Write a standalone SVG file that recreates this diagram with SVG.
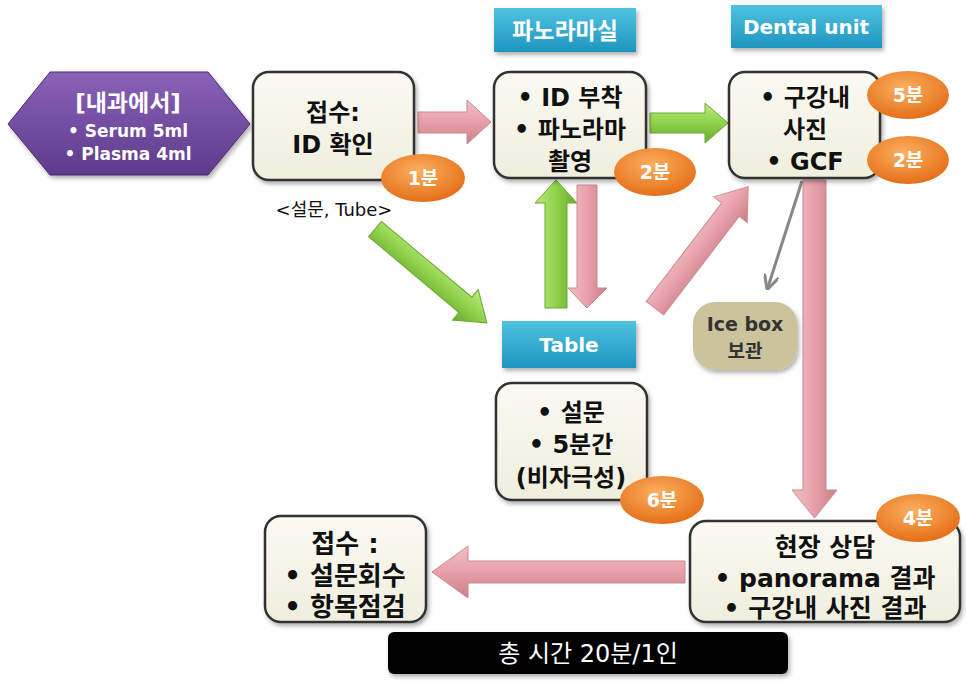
<svg xmlns="http://www.w3.org/2000/svg" width="966" height="683" viewBox="0 0 966 683">
<defs>
<linearGradient id="gBox" x1="0" y1="0" x2="0" y2="1"><stop offset="0" stop-color="#fbfaf2"/><stop offset="1" stop-color="#f0eedd"/></linearGradient>
<linearGradient id="gBlue" x1="0" y1="0" x2="0" y2="1"><stop offset="0" stop-color="#4fc3e0"/><stop offset="1" stop-color="#1e95c0"/></linearGradient>
<linearGradient id="gPurple" x1="0" y1="0" x2="0" y2="1"><stop offset="0" stop-color="#8a62b8"/><stop offset="1" stop-color="#5e3a8c"/></linearGradient>
<radialGradient id="gOrange" cx="0.45" cy="0.35" r="0.7"><stop offset="0" stop-color="#fbb060"/><stop offset="1" stop-color="#e46a12"/></radialGradient>
<linearGradient id="gPinkH" x1="0" y1="0" x2="0" y2="1"><stop offset="0" stop-color="#f2c0c4"/><stop offset="0.5" stop-color="#e8a0a8"/><stop offset="1" stop-color="#c97f88"/></linearGradient>
<linearGradient id="gPinkV" x1="0" y1="0" x2="1" y2="0"><stop offset="0" stop-color="#f2c0c4"/><stop offset="0.5" stop-color="#e8a0a8"/><stop offset="1" stop-color="#c97f88"/></linearGradient>
<linearGradient id="gGreenH" x1="0" y1="0" x2="0" y2="1"><stop offset="0" stop-color="#bdea80"/><stop offset="0.5" stop-color="#8fd24a"/><stop offset="1" stop-color="#6aa830"/></linearGradient>
<linearGradient id="gGreenV" x1="0" y1="0" x2="1" y2="0"><stop offset="0" stop-color="#bdea80"/><stop offset="0.5" stop-color="#8fd24a"/><stop offset="1" stop-color="#6aa830"/></linearGradient>
<marker id="mGray" viewBox="0 0 10 10" refX="8" refY="5" markerWidth="5" markerHeight="5" orient="auto"><path d="M0,0 L10,5 L0,10" fill="none" stroke="#888" stroke-width="2"/></marker>
<filter id="sh" x="-10%" y="-10%" width="130%" height="130%"><feDropShadow dx="2" dy="3" stdDeviation="2" flood-color="#000" flood-opacity="0.3"/></filter>
</defs>
<style>
text{font-family:"DejaVu Sans","Noto Sans CJK KR",sans-serif;font-weight:bold;text-anchor:middle}
.box{fill:url(#gBox);stroke:#333;stroke-width:2.5}
.bt{font-size:24px;fill:#111}
.bt2{font-size:26px;fill:#111}
.bt3{font-size:25px;fill:#111}
.hdr{fill:url(#gBlue)}
.ht{font-size:20px;fill:#fff}
.htk{font-size:23px;fill:#fff}
.badge{fill:url(#gOrange)}
.bgt{font-size:19px;fill:#fff}
.norm{font-weight:normal}
.pinkH{fill:url(#gPinkH);stroke:#c98a92;stroke-width:1}
.pinkV{fill:url(#gPinkV);stroke:#c98a92;stroke-width:1}
.greenH{fill:url(#gGreenH);stroke:#6aa830;stroke-width:1}
.greenV{fill:url(#gGreenV);stroke:#6aa830;stroke-width:1}
</style>

<g id="connectors">
<polygon class="pinkH" points="418,112 467,112 467,100 491,122 467,144 467,133 418,133"/>
<polygon class="greenH" points="650,113 705,113 705,103 728,123 705,143 705,133 650,133"/>
<g transform="translate(375,229) rotate(40)"><polygon class="greenH" points="0,-10 118,-10 118,-20 146,0 118,20 118,10 0,10"/></g>
<polygon class="greenV" points="545,308 545,203 535,203 556,180 577,203 567,203 567,308"/>
<polygon class="pinkV" points="577,185 597,185 597,288 607,288 587,308 568,288 577,288"/>
<g transform="translate(655,308) rotate(-52.5)"><polygon class="pinkH" points="0,-11 124,-11 124,-21 153,0 124,21 124,11 0,11"/></g>
<line x1="802" y1="181" x2="768" y2="287" stroke="#888" stroke-width="3" marker-end="url(#mGray)"/>
<polygon class="pinkV" points="803,180 826,180 826,490 837,490 814.5,518 792,490 803,490"/>
<polygon class="pinkH" points="685,561 468,561 468,546 432,572 468,598 468,583 685,583"/>
</g>

<g id="hospital">
<polygon points="8,124 50,72 208,72 250,124 208,175 50,175" fill="url(#gPurple)" stroke="#4a2d70" stroke-width="1" filter="url(#sh)"/>
<text x="128" y="111" font-size="23" fill="#fff">[내과에서]</text>
<text x="128" y="137" font-size="17" fill="#fff">• Serum 5ml</text>
<text x="128" y="160" font-size="17" fill="#fff">• Plasma 4ml</text>
</g>

<g id="reception">
<rect class="box" x="253" y="72" width="161" height="108" rx="16" filter="url(#sh)"/>
<text class="bt" x="333" y="121">접수:</text>
<text class="bt" x="333" y="153">ID 확인</text>
<ellipse class="badge" cx="423" cy="178" rx="42" ry="24"/>
<text class="bgt" x="423" y="185">1분</text>
<text class="norm" x="334" y="216" font-size="18" fill="#111">&lt;설문, Tube&gt;</text>
</g>

<g id="panorama-header">
<rect class="hdr" x="494" y="8" width="142" height="44" filter="url(#sh)"/>
<text class="htk" x="565" y="39">파노라마실</text>
</g>

<g id="panorama">
<rect class="box" x="494" y="72" width="152" height="106" rx="16" filter="url(#sh)"/>
<text class="bt" x="570" y="106">• ID 부착</text>
<text class="bt" x="570" y="138">• 파노라마</text>
<text class="bt" x="570" y="170">촬영</text>
<ellipse class="badge" cx="655" cy="172" rx="41" ry="24"/>
<text class="bgt" x="655" y="179">2분</text>
</g>

<g id="dental-header">
<rect class="hdr" x="731" y="5" width="151" height="43" filter="url(#sh)"/>
<text class="ht" x="806" y="34">Dental unit</text>
</g>

<g id="dental">
<rect class="box" x="729" y="72" width="151" height="106" rx="16" filter="url(#sh)"/>
<text class="bt" x="805" y="106">• 구강내</text>
<text class="bt" x="805" y="138">사진</text>
<text class="bt" x="805" y="170">• GCF</text>
<ellipse class="badge" cx="908" cy="95" rx="41" ry="24"/>
<text class="bgt" x="908" y="102">5분</text>
<ellipse class="badge" cx="908" cy="160" rx="41" ry="24"/>
<text class="bgt" x="908" y="167">2분</text>
</g>

<g id="table-header">
<rect class="hdr" x="502" y="321" width="134" height="47" filter="url(#sh)"/>
<text class="ht" x="569" y="352">Table</text>
</g>

<g id="icebox">
<rect x="693" y="302" width="104" height="68" rx="22" fill="#cbc39c" filter="url(#sh)"/>
<text x="745" y="331" font-size="19" fill="#333">Ice box</text>
<text x="745" y="358" font-size="19" fill="#333">보관</text>
</g>

<g id="survey">
<rect class="box" x="496" y="383" width="151" height="117" rx="16" filter="url(#sh)"/>
<text class="bt" x="571" y="421">• 설문</text>
<text class="bt" x="571" y="453">• 5분간</text>
<text class="bt" x="571" y="486">(비자극성)</text>
<ellipse class="badge" cx="662" cy="500" rx="42" ry="24"/>
<text class="bgt" x="662" y="507">6분</text>
</g>

<g id="consult">
<rect class="box" x="690" y="521" width="270" height="101" rx="16" filter="url(#sh)"/>
<text class="bt3" x="825" y="556">현장 상담</text>
<text class="bt3" x="825" y="587">• panorama 결과</text>
<text class="bt3" x="825" y="617">• 구강내 사진 결과</text>
<ellipse class="badge" cx="918" cy="518" rx="42" ry="24"/>
<text class="bgt" x="918" y="525">4분</text>
</g>

<g id="final">
<rect class="box" x="265" y="516" width="161" height="106" rx="16" filter="url(#sh)"/>
<text class="bt2" x="345" y="553">접수 :</text>
<text class="bt2" x="345" y="585">• 설문회수</text>
<text class="bt2" x="345" y="616">• 항목점검</text>
</g>

<g id="total">
<rect x="388" y="632" width="400" height="42" rx="6" fill="#000" filter="url(#sh)"/>
<text class="norm" x="588" y="662" font-size="24" fill="#fff">총 시간 20분/1인</text>
</g>
</svg>
